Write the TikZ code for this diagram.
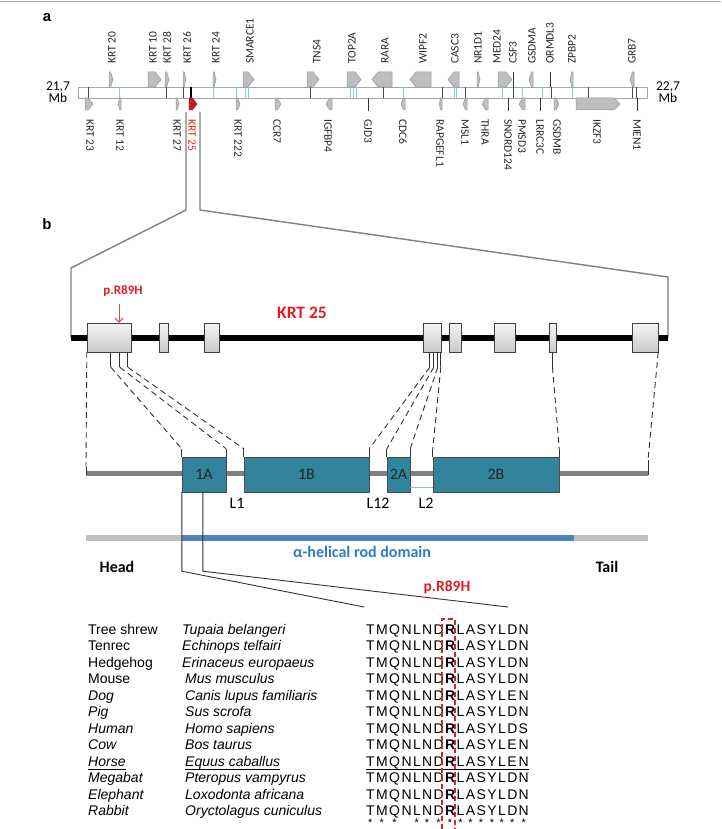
\documentclass[tikz,border=0pt]{standalone}
\usepackage{fontspec}
\setmainfont{Carlito}
\newfontfamily\arial{Liberation Sans}
\usepackage{xcolor}
\usetikzlibrary{arrows.meta}

\definecolor{krtred}{RGB}{226,30,36}
\definecolor{arrred}{RGB}{192,80,77}
\definecolor{domteal}{RGB}{49,132,155}
\definecolor{rodblue}{RGB}{79,129,189}
\definecolor{rodtext}{RGB}{46,125,196}
\definecolor{tickcyan}{RGB}{140,205,215}
\definecolor{genegray}{RGB}{190,190,190}

% gene arrow on the chromosome: x1, x2, ytop, ybottom, direction, colour
\newcommand{\gene}[6]{%
  \pgfmathsetmacro{\gtip}{min(6,0.6*(#2-#1))}%
  \pgfmathsetmacro{\gmid}{(#3+#4)/2}%
  \ifnum#5>0
    \filldraw[fill=#6, draw=#6!80!black, line width=0.5pt] (#1,#3) -- ({#2-\gtip},#3) -- (#2,\gmid) -- ({#2-\gtip},#4) -- (#1,#4) -- cycle;
  \else
    \filldraw[fill=#6, draw=#6!80!black, line width=0.5pt] (#2,#3) -- ({#1+\gtip},#3) -- (#1,\gmid) -- ({#1+\gtip},#4) -- (#2,#4) -- cycle;
  \fi}

% exon -> protein segment link: solid stub, dashed run, solid stub
\newcommand{\exlink}[2]{%
  \draw[conn] #1 -- ++(0,15) coordinate (la);
  \draw[conn] #2 -- ++(0,-8) coordinate (lb);
  \draw[conn, dsh] (la) -- (lb);}

\begin{document}
\begin{tikzpicture}[x=1pt, y=-1pt,
    lbl/.style={font=\fontsize{11.5}{12}\selectfont, text=black!85, inner sep=0pt},
    exon/.style={draw=black!75, top color=gray!8, bottom color=gray!42, minimum height=29pt, inner sep=0pt},
    dom/.style={draw=black!70, fill=domteal, minimum height=35pt, inner sep=0pt, text=black!85, font=\fontsize{16}{16}\selectfont},
    zoomln/.style={draw=gray, line width=1.4pt},
    conn/.style={draw=black!80, line width=0.9pt},
    dsh/.style={dash pattern=on 6pt off 4pt},
    tab/.style={font=\arial\fontsize{14}{14}\selectfont, anchor=base west, inner sep=0pt},
    seq/.style={font=\arial\fontsize{14}{14}\selectfont, anchor=base west, inner sep=0pt},
    hd/.style={font=\bfseries\fontsize{16}{16}\selectfont}
]
\useasboundingbox (0,0) rectangle (721,829);
\draw[gray!70, line width=1pt] (0,2) -- (721,2);

%% panel a
\node[font=\arial\bfseries\fontsize{15}{15}\selectfont] (pa) at (47,18) {a};
\draw[gray!70, fill=white, line width=0.8pt] (78,87) rectangle (647,98);
\foreach \x in {88,166,183,310,383,442,465,513,551,588,632,636}
  \draw[gray!60!black, line width=0.8pt] (\x,87) -- (\x,98);
\foreach \x in {119,213,236,245,248,350,353,356,403,454,456,502,522,542,572}
  \draw[tickcyan, line width=0.8pt] (\x,87) -- (\x,98);
\draw[black, line width=1.5pt] (191,87) -- (191,98);

\foreach \xa/\xb/\dr in {109/113/1, 148/161/1, 165/169/1, 183/186/1, 213/216/1, 243/254/1,
    307/319/1, 347/361/1, 372/392/-1, 410/431/-1, 448/459/-1, 477/480/1, 498/512/1,
    529/533/-1, 570/573/-1, 630/634/-1}
  \gene{\xa}{\xb}{72}{87}{\dr}{genegray};
\foreach \xa/\xb/\dr in {85/93/1, 118/121/-1, 176/179/1, 236/240/1, 275/281/1, 326/332/-1,
    401/405/-1, 439/442/-1, 463/467/-1, 482/488/-1, 519/525/-1, 554/559/1, 576/620/1}
  \gene{\xa}{\xb}{98}{110}{\dr}{genegray};
\gene{189}{197}{98}{110}{1}{krtred!90!black}
\foreach \x in {513,550}
  \draw[gray!40!black, line width=0.8pt] (\x,72) -- (\x,87);
\foreach \x in {368,508,540,637}
  \draw[gray!40!black, line width=0.8pt] (\x,98) -- (\x,111);

\foreach \x/\t in {112/KRT 20, 153/KRT 10, 167/KRT 28, 187/KRT 26, 216/KRT 24, 250/SMARCE1,
    317/TNS4, 352/TOP2A, 385/RARA, 423/WIPF2, 455/CASC3, 478/NR1D1, 497/MED24, 513/CSF3,
    532/GSDMA, 550/ORMDL3, 572/ZPBP2, 632/GRB7}
  \node[lbl, rotate=90, anchor=west] (up\x) at (\x,64) {\t};
\foreach \x/\t in {90/KRT 23, 120/KRT 12, 177/KRT 27, 238/KRT 222, 277/CCR7, 328/IGFBP4,
    368/GJD3, 403/CDC6, 440/RAPGEFL1, 465/MSL1, 485/THRA, 508/SNORD124, 522/PMSD3,
    540/LRRC3C, 557/GSDMB, 597/IKZF3, 637/MIEN1}
  \node[lbl, rotate=-90, anchor=west] (dn\x) at (\x,119) {\t};
\node[lbl, rotate=-90, anchor=west, text=krtred] (k25) at (192,119) {KRT 25};

\node[font=\fontsize{13.5}{14}\selectfont, align=center] (mbl) at (58,92) {21,7\\[-2pt]Mb};
\node[font=\fontsize{13.5}{14}\selectfont, align=center] (mbr) at (668,92) {22,7\\[-2pt]Mb};

%% panel b
\node[font=\arial\bfseries\fontsize{15}{15}\selectfont] (pb) at (47,224) {b};
\coordinate (zl) at (186,112);
\coordinate (zr) at (200,112);
\coordinate (gl) at (71,337.5);
\coordinate (gr) at (668,337.5);
\draw[zoomln] (zl) -- ++(0,98) -- (71,268) -- (gl);
\draw[zoomln] (zr) -- ++(0,98) -- (668,277) -- (gr);
\draw[line width=6pt] (gl) -- (gr);

\foreach \n/\xa/\xb in {1/87/131, 2/159/168, 3/204/219, 4/423/441, 5/449/461, 6/494/515, 7/549/556, 8/632/658}
  \node[exon, minimum width={(\xb-\xa)*1pt}] (e\n) at ({(\xa+\xb)/2},337.5) {};

\node[font=\bfseries\fontsize{13}{13}\selectfont, text=krtred] (mut1) at (123,291) {p.R89H};
\draw[-{Straight Barb[length=4pt]}, arrred, line width=1pt] ([xshift=-4pt,yshift=-4pt]mut1.south) -- ([xshift=10pt]e1.north);
\node[font=\bfseries\fontsize{17.5}{18}\selectfont, text=krtred] (k25big) at (302,313) {KRT 25};

% protein
\coordinate (pl) at (86,473);
\coordinate (pr) at (648,473);
\draw[gray, line width=5pt] (pl) -- (pr);
\foreach \n/\xa/\xb in {1A/182/226, 1B/244/369, 2A/387/410, 2B/433/559}
  \node[dom, minimum width={(\xb-\xa)*1pt}] (d\n) at ({(\xa+\xb)/2},474.5) {\n};
\draw[rodblue!60, line width=1pt] ([yshift=5pt]d2A.south east) -- ([yshift=5pt]d2B.south west);

\draw[conn, dsh] (e1.south west) -- ([yshift=6pt]pl);
\draw[conn] ([yshift=6pt]pl) -- ([yshift=-2pt]pl);
\draw[conn, dsh] (e8.south east) -- ([yshift=13pt]pr);
\draw[conn] ([yshift=13pt]pr) -- ([yshift=-2pt]pr);
\exlink{([xshift=24pt]e1.south west)}{(d1A.north west)}
\exlink{([xshift=33pt]e1.south west)}{(d1A.north east)}
\exlink{([xshift=41pt]e1.south west)}{(d1B.north west)}
\exlink{([xshift=7pt]e4.south west)}{(d1B.north east)}
\exlink{([xshift=11pt]e4.south west)}{(d2A.north west)}
\exlink{([xshift=15pt]e4.south west)}{(d2A.north east)}
\exlink{([xshift=18pt]e4.south west)}{(d2B.north west)}
\exlink{(e7.south)}{(d2B.north east)}

\node[font=\fontsize{16}{16}\selectfont] (l1) at (237,503) {L1};
\node[font=\fontsize{16}{16}\selectfont] (l12) at (378,503) {L12};
\node[font=\fontsize{16}{16}\selectfont] (l2) at (426,503) {L2};

% domains
\draw[gray!50, line width=6pt] (86,538) -- (182,538);
\draw[rodblue, line width=6pt] (182,538) -- (574,538);
\draw[gray!50, line width=6pt] (574,538) -- (648,538);
\node[font=\bfseries\fontsize{16}{16}\selectfont, text=rodtext] (rod) at (362,552) {α-helical rod domain};
\node[hd] (head) at (117,567) {Head};
\node[hd] (tail) at (607,567) {Tail};

\draw[conn] (d1A.south west) -- ++(0,79) -- (364,607);
\draw[conn] ([xshift=21pt]d1A.south west) -- ++(0,79) -- (508,607);
\node[font=\bfseries\fontsize{15.5}{16}\selectfont, text=krtred] (mut2) at (447,587) {p.R89H};

% alignment
\foreach \i/\com/\sp/\sx/\ya/\yb in {
    0/Tree shrew/Tupaia belangeri/182/D/N,
    1/Tenrec/Echinops telfairi/182/D/N,
    2/Hedgehog/Erinaceus europaeus/182/D/N,
    3/Mouse/Mus musculus/185/D/N,
    4/\textit{Dog}/Canis lupus familiaris/185/E/N,
    5/\textit{Pig}/Sus scrofa/185/D/N,
    6/\textit{Human}/Homo sapiens/185/D/S,
    7/\textit{Cow}/Bos taurus/185/E/N,
    8/\textit{Horse}/Equus caballus/185/E/N,
    9/\textit{Megabat}/Pteropus vampyrus/185/D/N,
    10/\textit{Elephant}/Loxodonta africana/185/D/N,
    11/\textit{Rabbit}/Oryctolagus cuniculus/185/D/N}
{
  \pgfmathsetmacro{\ry}{634+16.5*\i}
  \node[tab] (c\i) at (88,\ry) {\com};
  \node[tab] (sp\i) at (\sx,\ry) {\itshape\sp};
  \foreach \ch/\px [count=\c] in {T/366, M/376, Q/389, N/401.3, L/412.8, N/422, D/433.5,
      R/445, L/456.5, A/465.7, S/476.4, Y/487.2, L/497.9}
    \node[seq] (s\i-\c) at (\px,\ry) {\ifnum\c=8 \textbf{\ch}\else\ch\fi};
  \node[seq] (s\i-14) at (507.1,\ry) {\ya};
  \node[seq] (s\i-15) at (518.4,\ry) {\yb};
}
\draw[line width=0.8pt] ([yshift=-3.5pt]c8.base west) -- ([yshift=-3.5pt]c8.base east);
\draw[line width=0.8pt] ([yshift=-3.5pt]sp8.base west) -- ([yshift=-3.5pt]sp8.base east);
\draw[line width=0.8pt] ([yshift=-3.5pt]s8-1.base west) -- ([yshift=-3.5pt]s8-15.base east);
\foreach \px [count=\c] in {370.3, 381.8, 394.5, 416.7, 427, 438.6, 450.1, 460.4, 470.4, 481.1, 491.9, 501.8, 512.2, 523.7}
  \node[seq, anchor=base, font=\arial\fontsize{11}{11}\selectfont] (ast\c) at (\px,826) {*};
\draw[krtred, line width=1.1pt, dash pattern=on 5pt off 3pt] (442,845) -- (442,619) -- (455,619) -- (455,845);
\end{tikzpicture}
\end{document}
